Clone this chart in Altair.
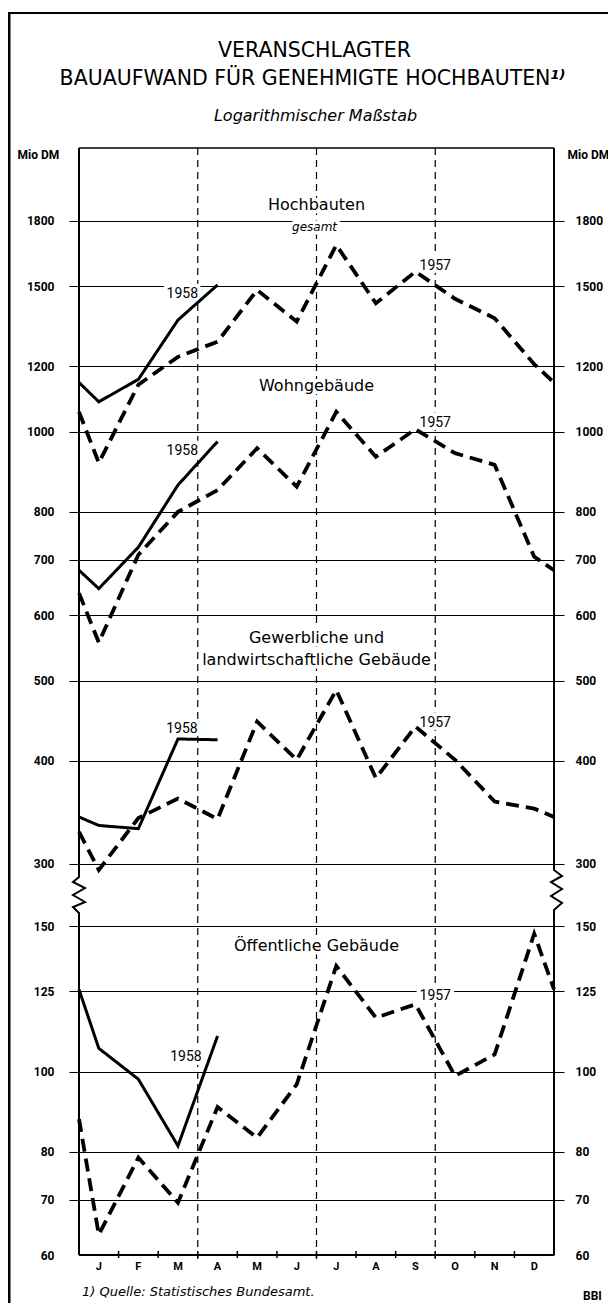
import math
import altair as alt
import pandas as pd

# ---------------- data ----------------
MONTHS = ["J", "F", "M", "A", "M", "J", "J", "A", "S", "O", "N", "D"]
CATEGORIES = ["Hochbauten", "Wohngebäude", "Gewerbliche", "Öffentliche"]
SECTIONS = ["upper", "upper", "upper", "lower"]

# first value = turn of the year (left edge), then Jan..Dec, last = right edge
HOCH_1957 = [1057, 917, 1140, 1232, 1285, 1484, 1359, 1682, 1430, 1562, 1448, 1372, 1207, 1147]
WOHN_1957 = [638, 556, 710, 800, 850, 955, 858, 1057, 933, 1007, 942, 912, 706, 680]
GEW_1957 = [328, 295, 341, 360, 340, 446, 401, 487, 381, 440, 401, 357, 350, 342]
OEFF_1957 = [87.6, 63.5, 78.7, 69.4, 90.6, 83.2, 96.5, 134.2, 116.2, 120.6, 98.8, 104.9, 146.8, 125.7]

# first value = turn of the year 1957/58, then Jan..Apr 1958
HOCH_1958 = [1147, 1087, 1157, 1365, 1505]
WOHN_1958 = [680, 646, 725, 862, 973]
GEW_1958 = [342, 334, 331, 425, 424]
OEFF_1958 = [125.7, 106.7, 97.9, 81.3, 110.4]

UPPER_TICKS = [1800, 1500, 1200, 1000, 800, 700, 600, 500, 400, 300]
LOWER_TICKS = [150, 125, 100, 80, 70, 60]

QUARTER_LINES = [3, 6, 9]
MONTH_BOUNDS = [1, 2, 3, 4, 5, 6, 7, 8, 9, 10, 11]

CAT_LABELS = ["Hochbauten", "Wohngebäude", "Gewerbliche und",
              "landwirtschaftliche Gebäude", "Öffentliche Gebäude"]
CAT_LABEL_X = [6.0, 6.0, 6.0, 6.0, 6.0]
CAT_LABEL_V = [1855, 1120, 555, 522, 140]
CAT_LABEL_SEC = ["upper", "upper", "upper", "upper", "lower"]

SUB_LABELS = ["gesamt"]
SUB_LABEL_X = [5.95]
SUB_LABEL_V = [1749]
SUB_LABEL_SEC = ["upper"]

YEAR_LABELS = ["1958", "1958", "1958", "1958", "1957", "1957", "1957", "1957"]
YEAR_LABEL_X = [2.61, 2.61, 2.60, 2.70, 9.0, 9.0, 9.0, 9.0]
YEAR_LABEL_V = [1467, 948, 437, 104.2, 1587, 1025, 444, 123.5]
YEAR_LABEL_SEC = ["upper", "upper", "upper", "lower", "upper", "upper", "upper", "lower"]

# ---------------- layout ----------------
W, H = 475, 1107
PXD = 826.7                      # pixels per decade of the log scale
HI = math.log10(1800) + 72.7 / PXD
LO = HI - H / PXD
SHIFT = LO - math.log10(60)      # offset of the lower (broken) section
BRK = 2.44
MW = W / 12.0


def pos_at(page_y):
    return HI - (page_y - 148) / PXD


POS_EXPR = f"log(datum.v) / LN10 + (datum.section == 'lower' ? {SHIFT} : 0)"

rows = []
for cat, sec, v57, v58 in zip(CATEGORIES, SECTIONS,
                              [HOCH_1957, WOHN_1957, GEW_1957, OEFF_1957],
                              [HOCH_1958, WOHN_1958, GEW_1958, OEFF_1958]):
    xs57 = [0.0] + [m + 0.5 for m in range(12)] + [12.0]
    for x, v in zip(xs57, v57):
        rows.append(dict(cat=cat, year="1957", x=x, v=v, section=sec))
    xs58 = [0.0] + [m + 0.5 for m in range(4)]
    for x, v in zip(xs58, v58):
        rows.append(dict(cat=cat, year="1958", x=x, v=v, section=sec))
series_df = pd.DataFrame(rows)

tick_pos = [math.log10(t) for t in UPPER_TICKS] + [math.log10(t) + SHIFT for t in LOWER_TICKS]
label_expr = (f"datum.value > {BRK} ? round(pow(10, datum.value)) : "
              f"round(pow(10, datum.value - {SHIFT}))")
tick_color = {"condition": {"test": f"datum.value < {LO + 0.01}", "value": "transparent"},
              "value": "black"}

# frame (vertical axis lines with the break symbol)
frame_rows = []
zig_left_y = [877, 882, 888, 895, 902, 907, 913]
zig_left_dx = [0, -6, 6, -6, 6, -6, 0]
zig_right_y = [870, 876, 882, 889, 896, 903, 910]
zig_right_dx = [0, 8, -3, 8, -3, 8, 0]
for side, x0, zy, zdx in [("l", 0.0, zig_left_y, zig_left_dx), ("r", 12.0, zig_right_y, zig_right_dx)]:
    pts = [(x0, HI)] + [(x0 + d / MW, pos_at(y)) for y, d in zip(zy, zdx)] + [(x0, LO)]
    for i, (x, p) in enumerate(pts):
        frame_rows.append(dict(side=side, i=i, x=x, pos=p))
frame_df = pd.DataFrame(frame_rows)

ONE = pd.DataFrame({"a": [0]})

XSCALE = alt.Scale(domain=[0, 12], nice=False, zero=False)
YSCALE = alt.Scale(domain=[LO, HI], nice=False, zero=False)

left_axis = alt.Axis(orient="left", values=tick_pos, labelExpr=label_expr,
                     grid=True, gridColor="black", gridWidth=1, gridOpacity=1,
                     ticks=True, tickSize=10, tickWidth=1, tickColor=tick_color,
                     domain=False, labelPadding=15, labelFont="Roboto", labelFontSize=12,
                     labelFontWeight="bold", labelColor="black", labelFlush=False,
                     labelOverlap=False, title="Mio DM", titleAngle=0, titleX=-62, titleY=6,
                     titleAlign="left", titleBaseline="middle", titleFont="Roboto",
                     titleFontSize=12, titleFontWeight="bold", titleColor="black")

right_axis = alt.Axis(orient="right", values=tick_pos, labelExpr=label_expr,
                      grid=False, ticks=True, tickSize=10, tickWidth=1, tickColor=tick_color,
                      domain=False, labelPadding=11, labelFont="Roboto", labelFontSize=12,
                      labelFontWeight="bold", labelColor="black", labelFlush=False,
                      labelOverlap=False, title="Mio DM", titleAngle=0, titleX=13, titleY=6,
                      titleAlign="left", titleBaseline="middle", titleFont="Roboto",
                      titleFontSize=12, titleFontWeight="bold", titleColor="black")


def X():
    return alt.X("x:Q", scale=XSCALE, axis=None)


def Y(axis=None):
    return alt.Y("pos:Q", scale=YSCALE, axis=axis)


# page frame
page_left = alt.Chart(ONE).mark_rule(color="black", strokeWidth=3).encode(
    x=alt.value(-70), y=alt.value(-135), y2=alt.value(H + 60))
page_top = alt.Chart(ONE).mark_rule(color="black", strokeWidth=2).encode(
    x=alt.value(-71), x2=alt.value(530), y=alt.value(-135))

quarters = alt.Chart(pd.DataFrame({"x": QUARTER_LINES})).mark_rule(
    color="black", strokeWidth=1.2, strokeDash=[7, 5]).encode(
    x=X(), y=alt.value(0), y2=alt.value(H + 8))

mticks = alt.Chart(pd.DataFrame({"x": MONTH_BOUNDS})).mark_rule(
    color="black", strokeWidth=1.5).encode(x=X(), y=alt.value(H - 4), y2=alt.value(H + 3))

month_labels = alt.Chart(pd.DataFrame({"x": [m + 0.5 for m in range(12)], "t": MONTHS})).mark_text(
    font="Roboto", fontSize=11, fontWeight="bold", color="black", baseline="middle",
    align="center").encode(x=X(), y=alt.value(H + 12), text="t:N")

plot_top = alt.Chart(ONE).mark_rule(color="black", strokeWidth=1.5).encode(
    x=alt.value(0), x2=alt.value(W), y=alt.value(0))
plot_bottom = alt.Chart(ONE).mark_rule(color="black", strokeWidth=2).encode(
    x=alt.value(0), x2=alt.value(W), y=alt.value(H))

frame = alt.Chart(frame_df).mark_line(color="black", strokeWidth=2, strokeJoin="miter").encode(
    x=X(), y=Y(right_axis), detail="side:N", order="i:Q")

series = alt.Chart(series_df).transform_calculate(pos=POS_EXPR).mark_line(
    color="black", strokeJoin="miter", strokeCap="butt").encode(
    x=X(), y=Y(left_axis), detail="cat:N",
    strokeDash=alt.StrokeDash("year:N", scale=alt.Scale(domain=["1957", "1958"],
                                                        range=[[13, 7], [1, 0]]), legend=None),
    strokeWidth=alt.StrokeWidth("year:N", scale=alt.Scale(domain=["1957", "1958"],
                                                          range=[3.8, 3.0]), legend=None))


def label_layers(texts, xs, vs, secs, font, size, style, baseline, halo):
    d = pd.DataFrame({"t": texts, "x": xs, "v": vs, "section": secs})
    base = alt.Chart(d).transform_calculate(pos=POS_EXPR)
    kw = dict(font=font, fontSize=size, fontStyle=style, baseline=baseline, align="center")
    h = base.mark_text(color="white", stroke="white", strokeWidth=halo, strokeJoin="round", **kw).encode(
        x=X(), y=Y(), text="t:N")
    t = base.mark_text(color="black", **kw).encode(x=X(), y=Y(), text="t:N")
    return [h, t]


labels = []
labels += label_layers(CAT_LABELS, CAT_LABEL_X, CAT_LABEL_V, CAT_LABEL_SEC,
                       "DejaVu Sans", 16, "normal", "alphabetic", 7)
labels += label_layers(SUB_LABELS, SUB_LABEL_X, SUB_LABEL_V, SUB_LABEL_SEC,
                       "DejaVu Sans", 12, "italic", "alphabetic", 7)
labels += label_layers(YEAR_LABELS, YEAR_LABEL_X, YEAR_LABEL_V, YEAR_LABEL_SEC,
                       "Roboto", 14, "normal", "middle", 8)


def txt(text, x, y, size, style="normal", weight="normal", align="center", font="DejaVu Sans"):
    return alt.Chart(ONE).mark_text(text=text, font=font, fontSize=size, fontStyle=style,
                                    fontWeight=weight, align=align, baseline="alphabetic",
                                    color="black").encode(x=alt.value(x), y=alt.value(y))


titles = [
    txt("VERANSCHLAGTER", 235.5, -91, 20.5),
    txt("BAUAUFWAND FÜR GENEHMIGTE HOCHBAUTEN", 226, -63, 20.5),
    txt("1)", 479, -69, 13, style="italic", weight="bold"),
    txt("Logarithmischer Maßstab", 236.5, -27, 16, style="italic"),
    txt("1) Quelle: Statistisches Bundesamt.", 3, 1148, 13, style="italic", align="left"),
    txt("BBI", 504, 1152, 12, weight="bold", align="left", font="Roboto"),
]

chart = alt.layer(
    page_left, page_top, quarters, mticks, month_labels, *labels, frame, plot_top, plot_bottom,
    series, *titles
).resolve_axis(y="independent").properties(
    width=W, height=H,
    autosize=alt.AutoSizeParams(type="none"),
    padding={"left": 71, "top": 140, "right": 54, "bottom": 48},
    background="white",
).configure_view(strokeWidth=0)

chart.save("out.html", embed_options={"renderer": "svg", "actions": False})
